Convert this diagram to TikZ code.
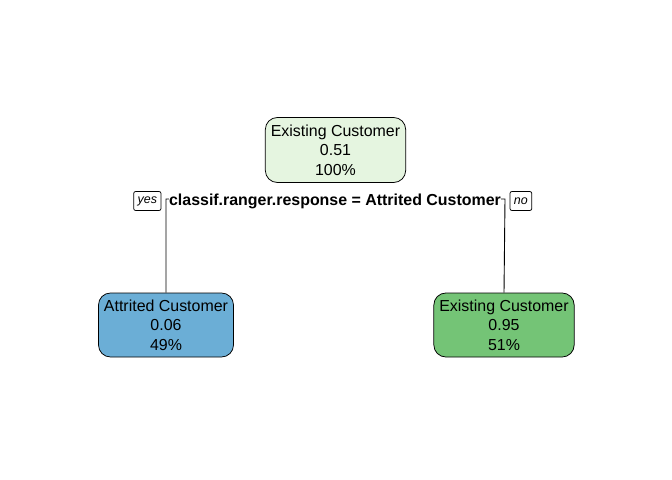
\documentclass[tikz,border=0pt]{standalone}
\usepackage{fontspec}
\setmainfont{Liberation Sans}
\usetikzlibrary{positioning}
\definecolor{rootgreen}{RGB}{229,245,224}
\definecolor{leafblue}{RGB}{107,174,214}
\definecolor{leafgreen}{RGB}{116,196,118}
\tikzset{
    % Tree node style
    treenode/.style={
        rectangle, draw=black, line width=0.75bp,
        inner xsep=5.5bp, inner ysep=0bp,
        minimum height=64bp,
        rounded corners=12bp, align=center,
        font=\fontsize{16}{19.5}\selectfont
    },
    % Split label style
    splitlabel/.style={
        rectangle, draw=none, fill=white,
        inner xsep=0.5bp, inner ysep=1bp,
        font=\fontsize{16}{19}\selectfont\bfseries
    },
    % Yes/no tag style
    answertag/.style={
        rectangle, draw=black, fill=white, line width=0.75bp,
        minimum height=19bp, inner xsep=4bp, inner ysep=0bp,
        rounded corners=2bp,
        font=\fontsize{12.5}{14}\selectfont\itshape
    },
    % Branch lines
    branch/.style={
        line width=0.9bp, color=black
    }
}
\begin{document}
\begin{tikzpicture}[x=1bp, y=-1bp, node distance=6bp]
\useasboundingbox (0,0) rectangle (672,480);

\node[treenode, fill=rootgreen, minimum height=65bp] (root) at (335.5,150) {Existing Customer\\0.51\\100\%};
\node[treenode, fill=leafblue] (attrited) at (166,325) {Attrited Customer\\0.06\\49\%};
\node[treenode, fill=leafgreen] (existing) at (504,325) {Existing Customer\\0.95\\51\%};

% Split line and label
\coordinate (splitleft) at (166,199);
\coordinate (splitright) at (505,199);
\draw[branch] (attrited.north) -- (splitleft) -- (splitright) -- (existing.north);
\node[splitlabel] (split) at (335,201) {classif.ranger.response = Attrited Customer};

\node[answertag, left=7bp of split] (yes) {yes};
\node[answertag, right=8bp of split] (no) {no};

\end{tikzpicture}
\end{document}
